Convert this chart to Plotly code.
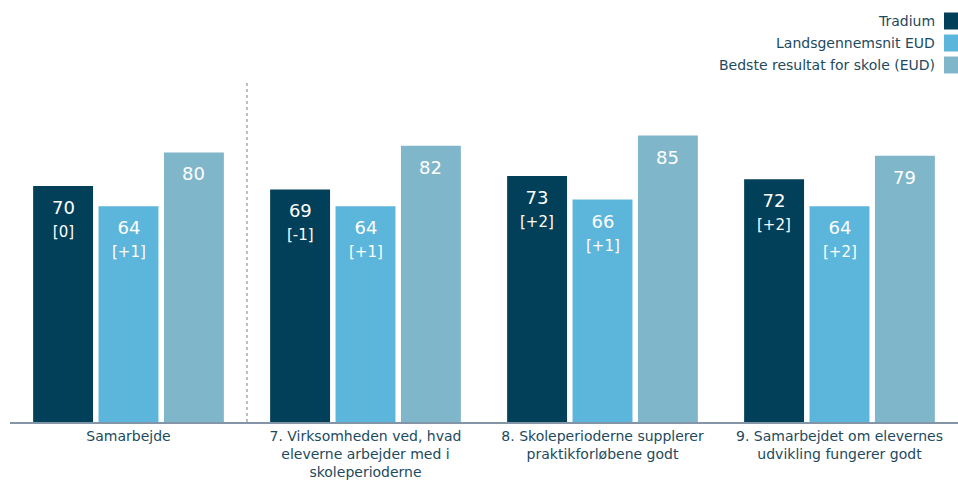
import plotly.graph_objects as go

categories = [
    "Samarbejde",
    "7. Virksomheden ved, hvad<br>eleverne arbejder med i<br>skoleperioderne",
    "8. Skoleperioderne supplerer<br>praktikforløbene godt",
    "9. Samarbejdet om elevernes<br>udvikling fungerer godt",
]
series_names = ["Tradium", "Landsgennemsnit EUD", "Bedste resultat for skole (EUD)"]
tradium = [70, 69, 73, 72]
tradium_change = ["[0]", "[-1]", "[+2]", "[+2]"]
lands = [64, 64, 66, 64]
lands_change = ["[+1]", "[+1]", "[+1]", "[+2]"]
best = [80, 82, 85, 79]

colors = ["#023F58", "#5CB5DB", "#80B6CA"]
text_color = "#1D4A5E"
FONT = "DejaVu Sans"

W, H = 958, 485
ML, MR, MT, MB = 10, 0, 85, 63
PW, PH = W - ML - MR, H - MT - MB
BARGAP, GROUPGAP = 0.172, 0.084
SLOT = PW / len(categories) * (1 - BARGAP) / 3  # px width of one bar slot


def px_x(x):
    return (x - ML) / PW


def px_y(y):
    return (H - MB - y) / PH


fig = go.Figure()
all_vals = [tradium, lands, best]
all_changes = [tradium_change, lands_change, [None] * len(best)]
for i, (name, col, vals) in enumerate(zip(series_names, colors, all_vals)):
    fig.add_trace(go.Bar(x=categories, y=vals, name=name, marker_color=col,
                         marker_line_width=0, hoverinfo="skip"))

# value labels inside top of bars
for i, (vals, chg) in enumerate(zip(all_vals, all_changes)):
    for cat, v, c in zip(categories, vals, chg):
        txt = f"{v}" if c is None else f"{v}<br><span style='font-size:15px'>{c}</span>"
        fig.add_annotation(x=cat, y=v, xref="x", yref="y", text=txt, showarrow=False,
                           xshift=(i - 1) * SLOT, yshift=-9, yanchor="top", xanchor="center",
                           align="center", font=dict(size=18, color="white", family=FONT))

# manual legend (swatch on the right of the text)
legend_y = [21, 43, 65]
for name, col, yc in zip(series_names, colors, legend_y):
    fig.add_annotation(x=px_x(937), y=px_y(yc), xref="paper", yref="paper",
                       text=name, showarrow=False, xanchor="right", yanchor="middle",
                       font=dict(size=14, color=text_color, family=FONT))
    fig.add_shape(type="rect", xref="paper", yref="paper",
                  x0=px_x(944), x1=px_x(958), y0=px_y(yc + 8.5), y1=px_y(yc - 8.5),
                  fillcolor=col, line_width=0)

# dotted separator
fig.add_shape(type="line", xref="x", yref="paper", x0=0.5, x1=0.5,
              y0=0, y1=px_y(80), line=dict(color="#808080", width=1, dash="dot"))

fig.update_layout(
    width=W, height=H,
    margin=dict(l=ML, r=MR, t=MT, b=MB, pad=0),
    barmode="group", bargap=BARGAP, bargroupgap=GROUPGAP,
    plot_bgcolor="white", paper_bgcolor="white",
    showlegend=False,
    font=dict(family=FONT, color=text_color, size=14),
    xaxis=dict(showline=True, linecolor="#8495A8", linewidth=2, ticks="",
               tickfont=dict(size=14, color=text_color, family=FONT),
               showgrid=False, zeroline=False),
    yaxis=dict(range=[0, 100], visible=False, showgrid=False, zeroline=False),
)

fig.write_html("out.html", config={"displayModeBar": False},
               post_script="document.body.style.margin='0';")
